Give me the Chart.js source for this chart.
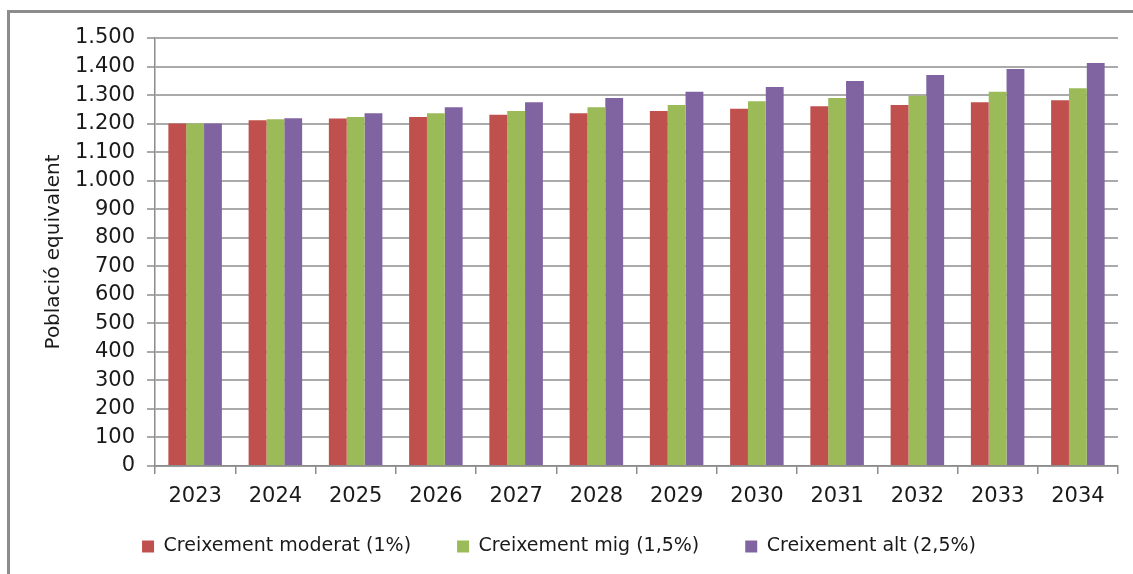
<!DOCTYPE html>
<html>
<head>
<meta charset="utf-8">
<script src="https://cdn.jsdelivr.net/npm/chart.js@4"></script>
<style>
  html, body { margin: 0; padding: 0; background: #fff; }
  #wrap { position: relative; width: 1133px; height: 574px; overflow: hidden; }
  #frame {
    position: absolute; left: 7px; top: 10px; width: 1200px; height: 700px;
    border-left: 3px solid #8c8c8c; border-top: 3px solid #8c8c8c;
  }
  #grafic { position: absolute; left: 0; top: 0; }
</style>
</head>
<body>
<div id="wrap">
  <div id="frame"></div>
  <canvas id="grafic" width="1133" height="574"></canvas>
</div>
<script>
// anys de la projecció
const anys = ['2023', '2024', '2025', '2026', '2027', '2028', '2029', '2030', '2031', '2032', '2033', '2034'];

// població equivalent per escenari
const moderat = [1200, 1212, 1218, 1223, 1231, 1236, 1244, 1252, 1261, 1265, 1275, 1282];
const mig     = [1200, 1215, 1223, 1236, 1244, 1257, 1265, 1278, 1290, 1298, 1312, 1324];
const alt     = [1200, 1219, 1236, 1257, 1275, 1290, 1312, 1328, 1349, 1370, 1391, 1412];

const etiquetes = ['Creixement moderat (1%)', 'Creixement mig (1,5%)', 'Creixement alt (2,5%)'];

const FONT = "'DejaVu Sans', sans-serif";
const textColor = '#1a1a1a';

function formatMiles(value) {
    return value.toLocaleString('de-DE');
}

// la llegenda fa servir un padding gran per separar els elements;
// després del layout la pugem perquè quedi just sota els anys
const pujaLlegenda = {
    id: 'pujaLlegenda',
    afterLayout(chart) {
        const l = chart.legend;
        if (!l) return;
        l.top -= 15;
        l.bottom -= 15;
    }
};

const ctx = document.getElementById('grafic').getContext('2d');

new Chart(ctx, {
    type: 'bar',
    data: {
        labels: anys,
        datasets: [
            { label: etiquetes[0], data: moderat, backgroundColor: '#C0504D' },
            { label: etiquetes[1], data: mig, backgroundColor: '#9BBB59' },
            { label: etiquetes[2], data: alt, backgroundColor: '#8064A2' }
        ]
    },
    plugins: [pujaLlegenda],
    options: {
        responsive: false,
        animation: false,
        layout: {
            padding: { left: 0, top: 38, right: 15, bottom: 0 }
        },
        datasets: {
            bar: {
                categoryPercentage: 0.667,
                barPercentage: 1,
                borderWidth: 0
            }
        },
        plugins: {
            legend: {
                position: 'bottom',
                maxHeight: 68,
                labels: {
                    font: { family: FONT, size: 19 },
                    color: textColor,
                    boxWidth: 12,
                    boxHeight: 12,
                    padding: 46
                }
            },
            tooltip: { enabled: false }
        },
        scales: {
            y: {
                min: 0,
                max: 1500,
                ticks: {
                    stepSize: 100,
                    padding: 12,
                    color: textColor,
                    font: { family: FONT, size: 21 },
                    callback: function(value) {
                        return formatMiles(value);
                    }
                },
                grid: {
                    color: '#aaaaaa',
                    lineWidth: 2,
                    tickLength: 8
                },
                border: { display: true, color: '#8c8c8c', width: 1.5 },
                title: {
                    display: true,
                    text: 'Població equivalent',
                    color: textColor,
                    font: { family: FONT, size: 20 },
                    padding: { top: 42, bottom: 0 }
                },
                afterFit: function(scale) {
                    scale.width = 155;
                }
            },
            x: {
                ticks: {
                    padding: 10,
                    color: textColor,
                    font: { family: FONT, size: 21 }
                },
                grid: {
                    drawOnChartArea: false,
                    color: '#8c8c8c',
                    lineWidth: 1.5,
                    tickLength: 8
                },
                border: { display: true, color: '#8c8c8c', width: 1.5 },
                afterFit: function(scale) {
                    scale.height = 40;
                }
            }
        }
    }
});
</script>
</body>
</html>
